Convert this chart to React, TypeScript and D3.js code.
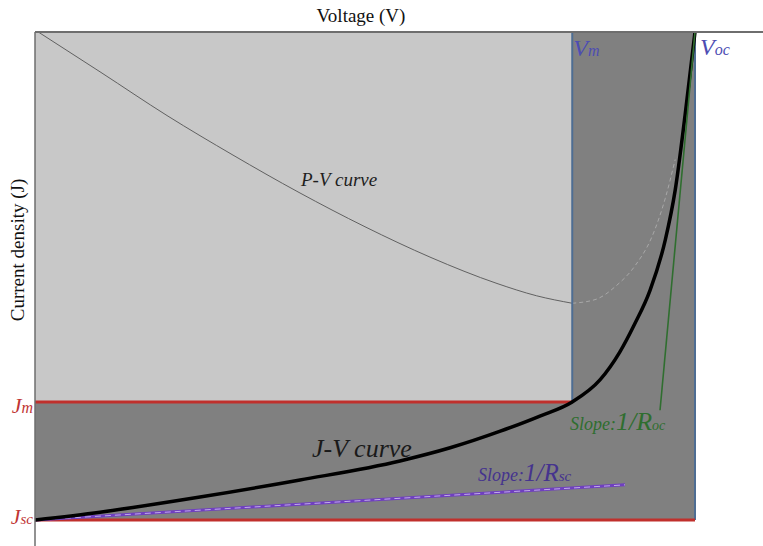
import React from "react";
import * as d3 from "d3";

// Normalised J-V characteristic (V / Voc, J / Jsc), measured from the top axis downward
const jvVoltage = [0, 0.0985, 0.25, 0.4015, 0.553, 0.629, 0.705, 0.765, 0.814, 0.856, 0.886, 0.908, 0.932, 0.955, 0.97, 0.985, 1];
const jvCurrent = [1, 0.984, 0.953, 0.918, 0.879, 0.852, 0.818, 0.787, 0.758, 0.713, 0.656, 0.6, 0.529, 0.426, 0.324, 0.17, 0];

// P-V curve: solid up to the maximum power point, dashed beyond it
const pvVoltage = [0.005, 0.1, 0.2, 0.3, 0.4, 0.5, 0.6, 0.7, 0.76, 0.814];
const pvPower = [0, 0.092, 0.19, 0.28, 0.365, 0.443, 0.513, 0.572, 0.6, 0.617];
const pvTailVoltage = [0.814, 0.85, 0.88, 0.91, 0.935, 0.955, 0.97];
const pvTailPower = [0.617, 0.608, 0.578, 0.53, 0.465, 0.378, 0.29];

// Key points
const Vm = 0.814;
const Jm = 0.758;
const Voc = 1;
const Jsc = 1;

// Tangent lines: [V, J] endpoints
const rocLine = [[1, 0], [0.947, 0.775]];
const rscLine = [[0, 1], [0.894, 0.928]];

const W = 763;
const H = 546;
const left = 35;
const right = 695;
const top = 32;
const bottom = 520;

const serif = "'Liberation Serif', 'Times New Roman', 'DejaVu Serif', serif";

export default function App() {
  const x = d3.scaleLinear().domain([0, Voc]).range([left, right]);
  const y = d3.scaleLinear().domain([0, Jsc]).range([top, bottom]);
  const p = d3.scaleLinear().domain([0, 1.11]).range([top, bottom]);

  const jvLine = d3
    .line<number>()
    .x((_, i) => x(jvVoltage[i]))
    .y((_, i) => y(jvCurrent[i]))
    .curve(d3.curveMonotoneX);

  const pvLine = d3
    .line<number>()
    .x((_, i) => x(pvVoltage[i]))
    .y((_, i) => p(pvPower[i]))
    .curve(d3.curveMonotoneX);

  const pvTail = d3
    .line<number>()
    .x((_, i) => x(pvTailVoltage[i]))
    .y((_, i) => p(pvTailPower[i]))
    .curve(d3.curveMonotoneX);

  const blue = "#4e6d93";
  const red = "#c0302c";
  const labelBlue = "#4d4db3";
  const labelRed = "#c03535";
  const green = "#2f6e2f";
  const purple = "#6f3fc0";
  const purpleText = "#45338e";

  return (
    <svg
      width={W}
      height={H}
      style={{ position: "absolute", left: 0, top: 0, background: "#fff", fontFamily: serif }}
    >
      {/* shaded regions */}
      <rect x={x(0)} y={y(0)} width={x(Voc) - x(0)} height={y(Jsc) - y(0)} fill="#808080" />
      <rect x={x(0)} y={y(0)} width={x(Vm) - x(0)} height={y(Jm) - y(0)} fill="#c8c8c8" />

      {/* P-V curve */}
      <path d={pvLine(pvVoltage) ?? ""} fill="none" stroke="#555" strokeWidth={0.9} />
      <path
        d={pvTail(pvTailVoltage) ?? ""}
        fill="none"
        stroke="#a8a8a8"
        strokeWidth={1}
        strokeDasharray="4 3"
      />

      {/* Vm / Voc verticals */}
      <line x1={x(Vm)} x2={x(Vm)} y1={y(0)} y2={y(Jm)} stroke={blue} strokeWidth={2} />
      <line x1={x(Voc)} x2={x(Voc)} y1={y(0)} y2={y(Jsc)} stroke={blue} strokeWidth={2} />

      {/* Jm / Jsc horizontals */}
      <line x1={x(0)} x2={x(Vm)} y1={y(Jm)} y2={y(Jm)} stroke={red} strokeWidth={3} />
      <line x1={x(0)} x2={x(Voc)} y1={y(Jsc)} y2={y(Jsc)} stroke={red} strokeWidth={3} />

      {/* slope at short circuit */}
      <line
        x1={x(rscLine[0][0])}
        y1={y(rscLine[0][1])}
        x2={x(rscLine[1][0])}
        y2={y(rscLine[1][1])}
        stroke={purple}
        strokeWidth={3}
      />
      <line
        x1={x(rscLine[0][0])}
        y1={y(rscLine[0][1])}
        x2={x(rscLine[1][0])}
        y2={y(rscLine[1][1])}
        stroke="#e6d8ff"
        strokeWidth={1}
        strokeDasharray="6 4"
        opacity={0.7}
      />

      {/* J-V curve */}
      <path d={jvLine(jvVoltage) ?? ""} fill="none" stroke="#000" strokeWidth={3.5} />

      {/* slope at open circuit */}
      <line
        x1={x(rocLine[0][0])}
        y1={y(rocLine[0][1])}
        x2={x(rocLine[1][0])}
        y2={y(rocLine[1][1])}
        stroke={green}
        strokeWidth={1.6}
      />

      {/* axes */}
      <line x1={x(0)} x2={W} y1={top} y2={top} stroke="#6e6e6e" strokeWidth={2} />
      <line x1={x(0)} x2={x(0)} y1={top} y2={H} stroke="#6e6e6e" strokeWidth={1.5} />

      <text x={361} y={22} textAnchor="middle" fontSize={19} fill="#111">
        Voltage (V)
      </text>
      <text
        transform={`translate(24, 250) rotate(-90)`}
        textAnchor="middle"
        fontSize={19}
        fill="#111"
      >
        Current density (J)
      </text>

      {/* point labels */}
      <text x={x(Vm) + 1} y={56} fill={labelBlue} fontStyle="italic">
        <tspan fontSize={24}>V</tspan>
        <tspan fontSize={16}>m</tspan>
      </text>
      <text x={x(Voc) + 5} y={55} fill={labelBlue} fontStyle="italic">
        <tspan fontSize={24}>V</tspan>
        <tspan fontSize={16}>oc</tspan>
      </text>
      <text x={33} y={y(Jm) + 11} textAnchor="end" fill={labelRed} fontStyle="italic">
        <tspan fontSize={22}>J</tspan>
        <tspan fontSize={16}>m</tspan>
      </text>
      <text x={33} y={y(Jsc) + 4} textAnchor="end" fill={labelRed} fontStyle="italic">
        <tspan fontSize={22}>J</tspan>
        <tspan fontSize={15}>sc</tspan>
      </text>

      {/* curve labels */}
      <text x={301} y={186} fontSize={19} fontStyle="italic" fill="#1e1e1e">
        P-V curve
      </text>
      <text x={312} y={457} fontSize={26} fontStyle="italic" fill="#1a1a1a">
        J-V curve
      </text>

      <text x={570} y={430} fill={green} fontStyle="italic">
        <tspan fontSize={18}>Slope:</tspan>
        <tspan fontSize={26}>1/R</tspan>
        <tspan fontSize={14}>oc</tspan>
      </text>
      <text x={478} y={481} fill={purpleText} fontStyle="italic">
        <tspan fontSize={18}>Slope:</tspan>
        <tspan fontSize={25}>1/R</tspan>
        <tspan fontSize={15}>sc</tspan>
      </text>
    </svg>
  );
}
